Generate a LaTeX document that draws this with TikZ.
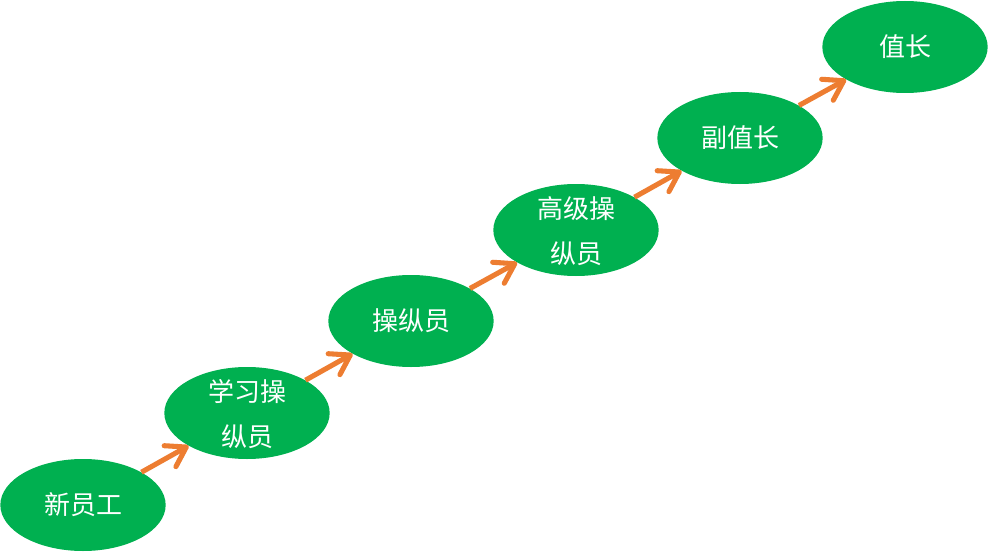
\documentclass[tikz,border=0pt]{standalone}
\usepackage{fontspec}
\setmainfont{Noto Sans CJK SC}
\usepackage{tikz}
\usetikzlibrary{arrows.meta,shapes.geometric}
\definecolor{stagegreen}{RGB}{0,176,80}
\definecolor{steporange}{RGB}{237,125,49}
\newcommand{\twolines}[2]{\smash{\raisebox{-6.5pt}{\begin{tabular}{@{}c@{}}#1\\#2\end{tabular}}}}

\begin{document}
\begin{tikzpicture}[x=0.75pt, y=0.75pt,
    every node/.style={font=\fontsize{19.5}{34}\selectfont},
    stage/.style={ellipse, fill=stagegreen, text=white, minimum width=124pt, minimum height=69pt},
    stepline/.style={draw=steporange, line width=3.8pt, -{Straight Barb[length=14pt,width=18pt,round]}}]
        \useasboundingbox (0,0) rectangle (988,551);
        \node[stage] (xin) at (83,46) {新员工};
        \node[stage] (xue) at (247,138) {\twolines{学习操}{纵员}};
        \node[stage] (cao) at (411,230) {操纵员};
        \node[stage] (gao) at (576,321) {\twolines{高级操}{纵员}};
        \node[stage] (fu) at (740,413) {副值长};
        \node[stage] (zhi) at (905,504) {值长};
        \draw[stepline] (xin) -- (xue);
        \draw[stepline] (xue) -- (cao);
        \draw[stepline] (cao) -- (gao);
        \draw[stepline] (gao) -- (fu);
        \draw[stepline] (fu) -- (zhi);
    \end{tikzpicture}
\end{document}
